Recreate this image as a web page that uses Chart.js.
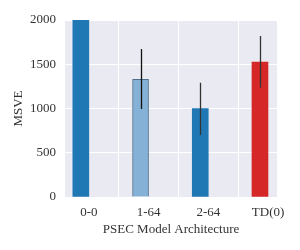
<!DOCTYPE html>
<html>
<head>
<meta charset="utf-8">
<script src="https://cdn.jsdelivr.net/npm/chart.js@4.4.0/dist/chart.umd.min.js"></script>
<style>
  html, body { margin: 0; padding: 0; background: #ffffff; }
  #wrap { width: 300px; height: 250px; }
</style>
</head>
<body>
<div id="wrap"><canvas id="chart" width="300" height="250"></canvas></div>
<script>
// PSEC architectures vs MSVE
const categories = ['0-0', '1-64', '2-64', 'TD(0)'];
const msve = [2600, 1330, 998, 1525];
const errLow = [null, 994, 700, 1235];
const errHigh = [null, 1672, 1291, 1819];
const barColors = ['#1f77b4', '#86b1d6', '#1f77b4', '#d62728'];
const edgeColors = ['#1f77b4', '#4f6f8c', '#1f77b4', '#d62728'];
const errColors = ['#000000', '#111111', '#333333', '#333333'];
const yTicks = [0, 500, 1000, 1500, 2000];

const FONT = "'Liberation Serif', 'DejaVu Serif', serif";
const barOffset = -0.135; // bars sit just left of their tick

// draws the vertical error lines
const errorBars = {
    id: 'errorBars',
    afterDatasetsDraw(chart) {
        const ctx = chart.ctx;
        const xs = chart.scales.x;
        const ys = chart.scales.y;
        ctx.save();
        ctx.beginPath();
        ctx.rect(chart.chartArea.left, chart.chartArea.top, chart.chartArea.right - chart.chartArea.left, chart.chartArea.bottom - chart.chartArea.top);
        ctx.clip();
        ctx.lineWidth = 1.3;
        categories.forEach(function(c, i) {
            if (errLow[i] == null) return;
            const px = Math.round(xs.getPixelForValue(i + barOffset)) + 0.5;
            ctx.strokeStyle = errColors[i];
            ctx.beginPath();
            ctx.moveTo(px, ys.getPixelForValue(errLow[i]));
            ctx.lineTo(px, ys.getPixelForValue(errHigh[i]));
            ctx.stroke();
        });
        ctx.restore();
    }
};

// plot background
const plotBg = {
    id: 'plotBg',
    beforeDraw(chart) {
        const a = chart.chartArea;
        chart.ctx.save();
        chart.ctx.fillStyle = '#eaeaf2';
        chart.ctx.fillRect(a.left, a.top, a.right - a.left, a.bottom - a.top);
        chart.ctx.restore();
    }
};

const ctx = document.getElementById('chart').getContext('2d');
const myChart = new Chart(ctx, {
    type: 'bar',
    data: {
        datasets: [{
            data: msve.map(function(v, i) { return { x: i + barOffset, y: v }; }),
            backgroundColor: barColors,
            borderColor: edgeColors,
            borderWidth: [0, 1, 0, 0],
            barThickness: 16
        }]
    },
    options: {
        responsive: false,
        animation: false,
        layout: { padding: { top: 20, right: 23, left: 7, bottom: 13 } },
        scales: {
            x: {
                type: 'linear',
                min: -0.40,
                max: 3.15,
                offset: false,
                afterBuildTicks(axis) {
                    axis.ticks = categories.map(function(c, i) { return { value: i }; });
                },
                afterFit(axis) { axis.height = 40; },
                ticks: {
                    callback: function(v) { return categories[v]; },
                    color: '#333333',
                    font: { family: FONT, size: 13 },
                    padding: 8,
                    maxRotation: 0
                },
                grid: { color: '#ffffff', lineWidth: 1, drawTicks: false },
                border: { display: false },
                title: {
                    display: true,
                    text: 'PSEC Model Architecture',
                    color: '#333333',
                    font: { family: FONT, size: 13 },
                    padding: { top: 0, bottom: 0 }
                }
            },
            y: {
                min: 0,
                max: 2000,
                afterBuildTicks(axis) {
                    axis.ticks = yTicks.map(function(v) { return { value: v }; });
                },
                afterFit(axis) { axis.width = 58; },
                ticks: {
                    callback: function(v) { return String(v); },
                    color: '#333333',
                    font: { family: FONT, size: 13 },
                    padding: 9
                },
                grid: { color: '#ffffff', lineWidth: 1, drawTicks: false },
                border: { display: false },
                title: {
                    display: true,
                    text: 'MSVE',
                    color: '#333333',
                    font: { family: FONT, size: 13 },
                    padding: { top: 4, bottom: 0 }
                }
            }
        },
        plugins: {
            legend: { display: false },
            tooltip: { enabled: false }
        }
    },
    plugins: [plotBg, errorBars]
});
</script>
</body>
</html>
